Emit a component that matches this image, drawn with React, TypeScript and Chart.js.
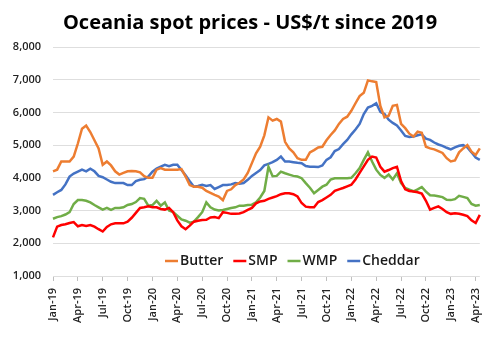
import { useEffect, useRef } from "react";
import { Chart, registerables } from "chart.js";

Chart.register(...registerables);

const chartTitle = "Oceania spot prices - US$/t since 2019";

// Semi-monthly observations, Jan-19 (1st half) .. Apr-23 (2nd half)
const monthNames = ["Jan", "Feb", "Mar", "Apr", "May", "Jun", "Jul", "Aug", "Sep", "Oct", "Nov", "Dec"];
const yearSuffixes = ["19", "20", "21", "22", "23"];
const categories: string[] = [];
for (const yy of yearSuffixes) {
  for (const m of monthNames) {
    categories.push(`${m}-${yy} (1)`);
    categories.push(`${m}-${yy} (2)`);
  }
}
categories.length = 104;

const tickLabels = [
  "Jan-19", "Apr-19", "Jul-19", "Oct-19",
  "Jan-20", "Apr-20", "Jul-20", "Oct-20",
  "Jan-21", "Apr-21", "Jul-21", "Oct-21",
  "Jan-22", "Apr-22", "Jul-22", "Oct-22",
  "Jan-23", "Apr-23",
];

const yTicks = [1000, 2000, 3000, 4000, 5000, 6000, 7000, 8000];

const butter = [
  4200, 4250, 4500, 4500, 4500, 4650, 5050, 5500, 5600, 5400, 5150, 4900,
  4400, 4500, 4380, 4200, 4100, 4150, 4200, 4210, 4200, 4170, 4050, 4000,
  4000, 4250, 4300, 4250, 4250, 4250, 4250, 4270, 4040, 3780, 3730, 3730,
  3700, 3600, 3540, 3480, 3430, 3320, 3600, 3650, 3780, 3850, 3950, 4150,
  4450, 4750, 4950, 5300, 5850, 5750, 5800, 5720, 5100, 4900, 4780, 4600,
  4550, 4550, 4780, 4850, 4930, 4950, 5150, 5310, 5450, 5650, 5800, 5870,
  6050, 6280, 6500, 6600, 6980, 6950, 6930, 6200, 5850, 5900, 6200, 6230,
  5650, 5520, 5350, 5260, 5410, 5380, 4950, 4900, 4870, 4820, 4760, 4600,
  4500, 4530, 4780, 4900, 5000, 4800, 4700, 4900,
];

const smp = [
  2180, 2510, 2560, 2580, 2620, 2650, 2520, 2560, 2530, 2560, 2510, 2430,
  2360, 2500, 2580, 2610, 2610, 2610, 2660, 2780, 2930, 3080, 3100, 3130,
  3100, 3100, 3050, 3030, 3080, 2950, 2700, 2520, 2430, 2540, 2660, 2690,
  2710, 2720, 2790, 2800, 2770, 2950, 2930, 2900, 2900, 2910, 2950, 3020,
  3080, 3220, 3280, 3300, 3360, 3400, 3440, 3500, 3530, 3530, 3500, 3430,
  3230, 3120, 3100, 3100, 3260, 3320, 3400, 3480, 3600, 3650, 3690, 3740,
  3790, 3950, 4150, 4350, 4550, 4650, 4620, 4340, 4190, 4240, 4300, 4340,
  3900, 3650, 3600, 3580, 3560, 3520, 3300, 3030, 3080, 3130, 3050, 2950,
  2900, 2920, 2900, 2870, 2830, 2700, 2620, 2870,
];

const wmp = [
  2750, 2800, 2830, 2880, 2950, 3200, 3320, 3320, 3300, 3250, 3170, 3100,
  3030, 3080, 3020, 3080, 3080, 3100, 3170, 3200, 3260, 3380, 3360, 3150,
  3170, 3300, 3150, 3250, 3000, 2950, 2840, 2730, 2690, 2630, 2660, 2800,
  2950, 3250, 3100, 3030, 3000, 3020, 3050, 3080, 3100, 3150, 3150, 3170,
  3180, 3250, 3400, 3600, 4340, 4050, 4060, 4190, 4140, 4100, 4060, 4040,
  3990, 3840, 3700, 3530, 3630, 3730, 3790, 3950, 3990, 3990, 3990, 3990,
  4000, 4140, 4300, 4550, 4780, 4500, 4250, 4090, 4000, 4100, 3950, 4140,
  3840, 3690, 3640, 3590, 3650, 3720, 3580, 3470, 3460, 3440, 3410, 3330,
  3320, 3350, 3450, 3420, 3380, 3200, 3150, 3170,
];

const cheddar = [
  3480, 3560, 3630, 3800, 4040, 4130, 4190, 4250, 4200, 4280, 4200, 4060,
  4020, 3950, 3880, 3840, 3840, 3840, 3780, 3780, 3900, 3940, 3960, 4040,
  4190, 4280, 4340, 4400, 4360, 4400, 4400, 4240, 4080, 3900, 3730, 3750,
  3790, 3750, 3780, 3660, 3720, 3780, 3780, 3800, 3840, 3820, 3840, 3940,
  4060, 4150, 4240, 4380, 4430, 4480, 4550, 4650, 4500, 4500, 4480, 4460,
  4450, 4360, 4340, 4340, 4330, 4380, 4550, 4630, 4820, 4880, 5030, 5160,
  5330, 5480, 5650, 5950, 6150, 6200, 6280, 6020, 5950, 5780, 5680, 5600,
  5450, 5280, 5250, 5260, 5300, 5330, 5200, 5160, 5080, 5020, 4980, 4920,
  4870, 4930, 4980, 5000, 4930, 4780, 4620, 4550,
];

const seriesNames = ["Butter", "SMP", "WMP", "Cheddar"];
const seriesColors = ["#ED7D31", "#FF0000", "#70AD47", "#4472C4"];
const seriesData = [butter, smp, wmp, cheddar];

const insideLegend = {
  id: "insideLegend",
  afterDatasetsDraw(chart: any) {
    const ctx = chart.ctx as CanvasRenderingContext2D;
    const area = chart.chartArea;
    const y = area.bottom - 15;
    let x = 165;
    ctx.save();
    ctx.font = "600 14px 'Open Sans', sans-serif";
    ctx.textBaseline = "middle";
    ctx.textAlign = "left";
    chart.data.datasets.forEach((ds: any) => {
      ctx.strokeStyle = ds.borderColor;
      ctx.lineWidth = 2.5;
      ctx.beginPath();
      ctx.moveTo(x, y);
      ctx.lineTo(x + 13, y);
      ctx.stroke();
      x += 15;
      ctx.fillStyle = "#1a1a1a";
      ctx.fillText(ds.label, x, y);
      x += ctx.measureText(ds.label).width + 10;
    });
    ctx.restore();
  },
};

export default function App() {
  const canvasRef = useRef<HTMLCanvasElement | null>(null);

  useEffect(() => {
    document.body.style.margin = "0";
    const canvas = canvasRef.current;
    if (!canvas) return;
    const chart = new Chart(canvas, {
      type: "line",
      data: {
        labels: categories,
        datasets: seriesNames.map((name, i) => ({
          label: name,
          data: seriesData[i],
          borderColor: seriesColors[i],
          backgroundColor: seriesColors[i],
          borderWidth: 2.5,
          pointRadius: 0,
          tension: 0,
          fill: false,
          yAxisID: "y",
        })),
      },
      options: {
        responsive: false,
        animation: false,
        layout: { padding: 0 },
        plugins: {
          legend: { display: false },
          tooltip: { enabled: false },
          title: {
            display: true,
            text: chartTitle,
            color: "#000",
            font: { family: "'Open Sans', sans-serif", size: 20, weight: "bold" },
            padding: { top: 11, bottom: 12 },
          },
        },
        scales: {
          x: {
            type: "category",
            offset: false,
            grid: {
              drawOnChartArea: false,
              drawTicks: true,
              tickLength: 5,
              color: (c: any) => (c.index % 6 === 0 ? "#bfbfbf" : "rgba(0,0,0,0)"),
            },
            border: { display: false },
            ticks: {
              autoSkip: false,
              maxRotation: 90,
              minRotation: 90,
              padding: 7,
              color: "#222",
              font: { family: "'Open Sans', sans-serif", size: 11, weight: 600 },
              callback: (_v: any, idx: number) => (idx % 6 === 0 ? tickLabels[idx / 6] : ""),
            },
            afterFit: (s: any) => {
              s.height = 76;
            },
          },
          y: {
            min: 1000,
            max: 8000,
            afterBuildTicks: (s: any) => {
              s.ticks = yTicks.map((v) => ({ value: v }));
            },
            grid: { color: "#dedede", lineWidth: 1, drawTicks: false },
            border: { display: false },
            ticks: {
              padding: 12,
              color: "#222",
              font: { family: "'Open Sans', sans-serif", size: 11, weight: 600 },
              callback: (v: any) => Number(v).toLocaleString("en-US"),
            },
            afterFit: (s: any) => {
              s.width = 53;
            },
          },
          spacer: {
            type: "linear",
            position: "right",
            display: true,
            min: 1000,
            max: 8000,
            grid: { display: false },
            border: { display: false },
            ticks: { display: false },
            afterFit: (s: any) => {
              s.width = 18;
            },
          },
        },
      },
      plugins: [insideLegend],
    });
    return () => chart.destroy();
  }, []);

  return <canvas ref={canvasRef} width={500} height={352} style={{ display: "block" }} />;
}
